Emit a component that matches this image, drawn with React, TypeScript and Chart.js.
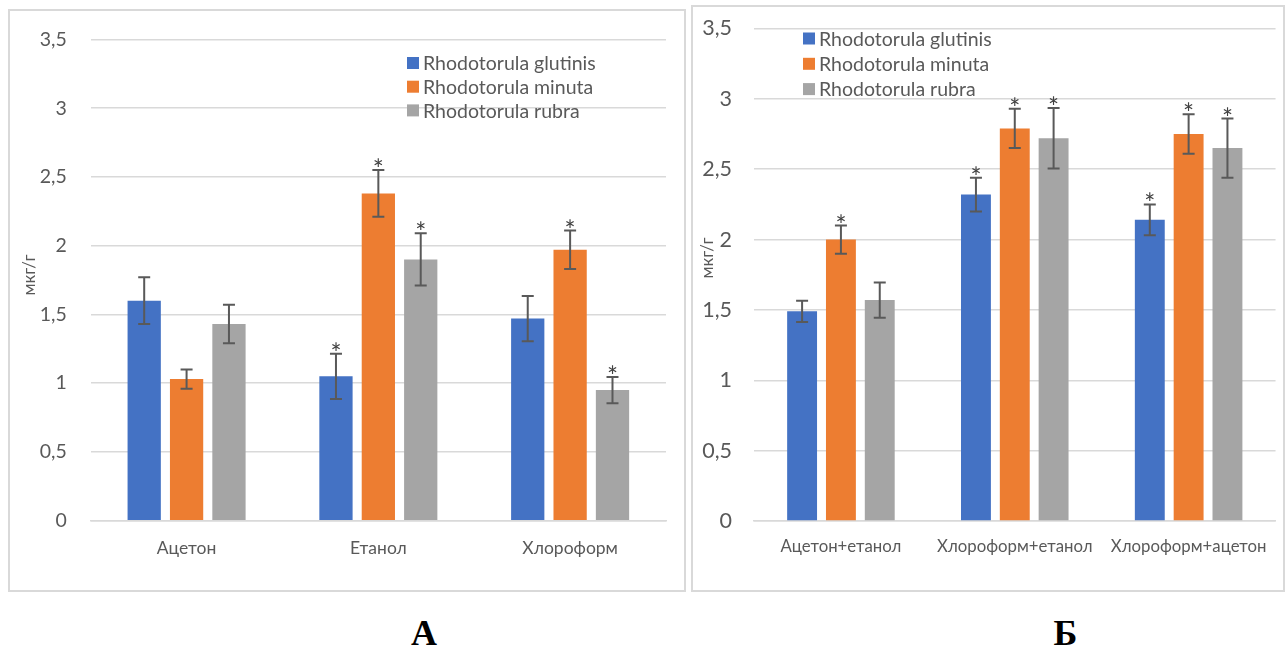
import React, { useEffect, useRef } from 'react';
import { Chart, registerables } from 'chart.js';

Chart.register(...registerables);

// ---------- data ----------
const seriesNames = ['Rhodotorula glutinis', 'Rhodotorula minuta', 'Rhodotorula rubra'];
const seriesColors = ['#4472C4', '#ED7D31', '#A5A5A5'];
const yTickLabels = ['0', '0,5', '1', '1,5', '2', '2,5', '3', '3,5'];

const categoriesA = ['Ацетон', 'Етанол', 'Хлороформ'];
const glutinisA = [1.6, 1.05, 1.47];
const glutinisErrA = [0.17, 0.165, 0.165];
const glutinisSigA = [false, true, false];
const minutaA = [1.03, 2.38, 1.97];
const minutaErrA = [0.07, 0.17, 0.14];
const minutaSigA = [false, true, true];
const rubraA = [1.43, 1.9, 0.95];
const rubraErrA = [0.14, 0.19, 0.095];
const rubraSigA = [false, true, true];

const categoriesB = ['Ацетон+етанол', 'Хлороформ+етанол', 'Хлороформ+ацетон'];
const glutinisB = [1.49, 2.32, 2.14];
const glutinisErrB = [0.075, 0.12, 0.11];
const glutinisSigB = [false, true, true];
const minutaB = [2.0, 2.79, 2.75];
const minutaErrB = [0.1, 0.14, 0.14];
const minutaSigB = [true, true, true];
const rubraB = [1.57, 2.72, 2.65];
const rubraErrB = [0.125, 0.215, 0.21];
const rubraSigB = [false, true, true];

const axisTitle = 'мкг/г';

// ---------- styling ----------
const FONT = 'Lato, "Open Sans", "Noto Sans", sans-serif';
const TEXT = '#595959';
const GRID = '#d9d9d9';
const ERR = '#595959';

const overlayPlugin = {
  id: 'overlay',
  afterDatasetsDraw(chart: any, _args: any, opts: any) {
    const ctx = chart.ctx;
    const y = chart.scales.y;
    chart.data.datasets.forEach((ds: any, di: number) => {
      const meta = chart.getDatasetMeta(di);
      meta.data.forEach((bar: any, i: number) => {
        const v = ds.data[i];
        const e = ds.errors[i];
        const top = y.getPixelForValue(v + e);
        const bot = y.getPixelForValue(v - e);
        const x = bar.x;
        ctx.save();
        ctx.strokeStyle = ERR;
        ctx.lineWidth = 2;
        ctx.beginPath();
        ctx.moveTo(x, top);
        ctx.lineTo(x, bot);
        ctx.moveTo(x - 6, top);
        ctx.lineTo(x + 6, top);
        ctx.moveTo(x - 6, bot);
        ctx.lineTo(x + 6, bot);
        ctx.stroke();
        if (ds.sig[i]) {
          ctx.font = `${opts.starSize}px ${FONT}`;
          ctx.fillStyle = '#404040';
          ctx.textAlign = 'center';
          ctx.textBaseline = 'alphabetic';
          const m = ctx.measureText('*');
          ctx.fillText('*', x, top - 3 - m.actualBoundingBoxDescent);
        }
        ctx.restore();
      });
    });
  },
  afterDraw(chart: any, _args: any, opts: any) {
    const ctx = chart.ctx;
    ctx.save();
    // legend
    ctx.font = `${opts.legendSize}px ${FONT}`;
    ctx.textBaseline = 'middle';
    ctx.textAlign = 'left';
    chart.data.datasets.forEach((ds: any, i: number) => {
      const cy = opts.legendY + i * opts.legendGap;
      ctx.fillStyle = ds.backgroundColor;
      ctx.fillRect(opts.legendX, cy - 6, 12, 12);
      ctx.fillStyle = TEXT;
      ctx.fillText(ds.label, opts.legendX + 16, cy + 1);
    });
    // y title
    ctx.translate(opts.titleX, opts.titleY);
    ctx.rotate(-Math.PI / 2);
    ctx.font = `${opts.titleSize}px ${FONT}`;
    ctx.fillStyle = TEXT;
    ctx.textAlign = 'center';
    ctx.textBaseline = 'middle';
    ctx.fillText(axisTitle, 0, 0);
    ctx.restore();
  },
};

function buildConfig(p: any) {
  const datasets = [0, 1, 2].map((k) => ({
    label: seriesNames[k],
    data: p.values[k],
    errors: p.errors[k],
    sig: p.sig[k],
    backgroundColor: seriesColors[k],
    borderWidth: 0,
    barPercentage: p.barPct,
    categoryPercentage: p.catPct,
  }));
  return {
    type: 'bar',
    data: { labels: p.categories, datasets },
    plugins: [overlayPlugin],
    options: {
      responsive: false,
      animation: false,
      events: [],
      layout: { padding: { left: 0, top: p.padTop, right: p.padRight, bottom: 0 } },
      plugins: {
        legend: { display: false },
        tooltip: { enabled: false },
        overlay: p.overlay,
      },
      scales: {
        x: {
          grid: { display: false, drawTicks: false },
          border: { display: true, color: GRID, width: 1.5 },
          ticks: { color: TEXT, font: { family: FONT, size: p.xFont }, padding: p.xPad, maxRotation: 0, autoSkip: false },
          afterFit: (s: any) => { s.height = p.xHeight; },
        },
        y: {
          min: 0,
          max: 3.5,
          grid: { color: GRID, lineWidth: 1.5, drawTicks: true, tickLength: p.yPad, tickColor: 'rgba(0,0,0,0)' },
          border: { display: false },
          ticks: {
            stepSize: 0.5,
            color: TEXT,
            font: { family: FONT, size: p.yFont },
            padding: 0,
            callback: (_v: any, i: number) => yTickLabels[i],
          },
          afterFit: (s: any) => { s.width = p.yWidth; },
        },
      },
    },
  };
}

function BarPanel(props: { cfg: any; w: number; h: number }) {
  const ref = useRef<HTMLCanvasElement>(null);
  useEffect(() => {
    const chart = new Chart(ref.current as HTMLCanvasElement, buildConfig(props.cfg) as any);
    return () => chart.destroy();
  }, []);
  return <canvas ref={ref} width={props.w} height={props.h} style={{ display: 'block', width: props.w, height: props.h }} />;
}

const cfgA = {
  categories: categoriesA,
  values: [glutinisA, minutaA, rubraA],
  errors: [glutinisErrA, minutaErrA, rubraErrA],
  sig: [glutinisSigA, minutaSigA, rubraSigA],
  barPct: 0.785,
  catPct: 0.663,
  padTop: 28.5,
  padRight: 18,
  yWidth: 80.7,
  xHeight: 69.3,
  yPad: 24,
  xPad: 17,
  xFont: 17.5,
  yFont: 19.5,
  overlay: { legendX: 397, legendY: 52, legendGap: 23.7, legendSize: 19.5, titleX: 20, titleY: 264, titleSize: 17, starSize: 26 },
};

const cfgB = {
  categories: categoriesB,
  values: [glutinisB, minutaB, rubraB],
  errors: [glutinisErrB, minutaErrB, rubraErrB],
  sig: [glutinisSigB, minutaSigB, rubraSigB],
  barPct: 0.77,
  catPct: 0.67,
  padTop: 21.5,
  padRight: 5,
  yWidth: 61,
  xHeight: 69,
  yPad: 22,
  xPad: 15.7,
  xFont: 16.8,
  yFont: 21.5,
  overlay: { legendX: 110, legendY: 31.5, legendGap: 25.3, legendSize: 19.5, titleX: 15, titleY: 251, titleSize: 17, starSize: 26 },
};

export default function App() {
  const panel = (left: number, top: number, w: number, h: number): React.CSSProperties => ({
    position: 'absolute',
    left,
    top,
    width: w,
    height: h,
    border: `2px solid ${GRID}`,
    boxSizing: 'border-box',
    background: '#fff',
  });
  const letter = (cx: number): React.CSSProperties => ({
    position: 'absolute',
    left: cx - 50,
    top: 615,
    width: 100,
    textAlign: 'center',
    font: 'bold 36px "Liberation Serif", "Times New Roman", serif',
    lineHeight: '36px',
    color: '#000',
  });
  return (
    <div style={{ position: 'fixed', left: 0, top: 0, width: 1287, height: 650, background: '#fff', overflow: 'hidden' }}>
      <div style={panel(8, 9, 678, 583)}>
        <BarPanel cfg={cfgA} w={674} h={579} />
      </div>
      <div style={panel(691, 5, 594, 587)}>
        <BarPanel cfg={cfgB} w={590} h={583} />
      </div>
      <div style={letter(424)}>А</div>
      <div style={letter(1065.5)}>Б</div>
    </div>
  );
}
